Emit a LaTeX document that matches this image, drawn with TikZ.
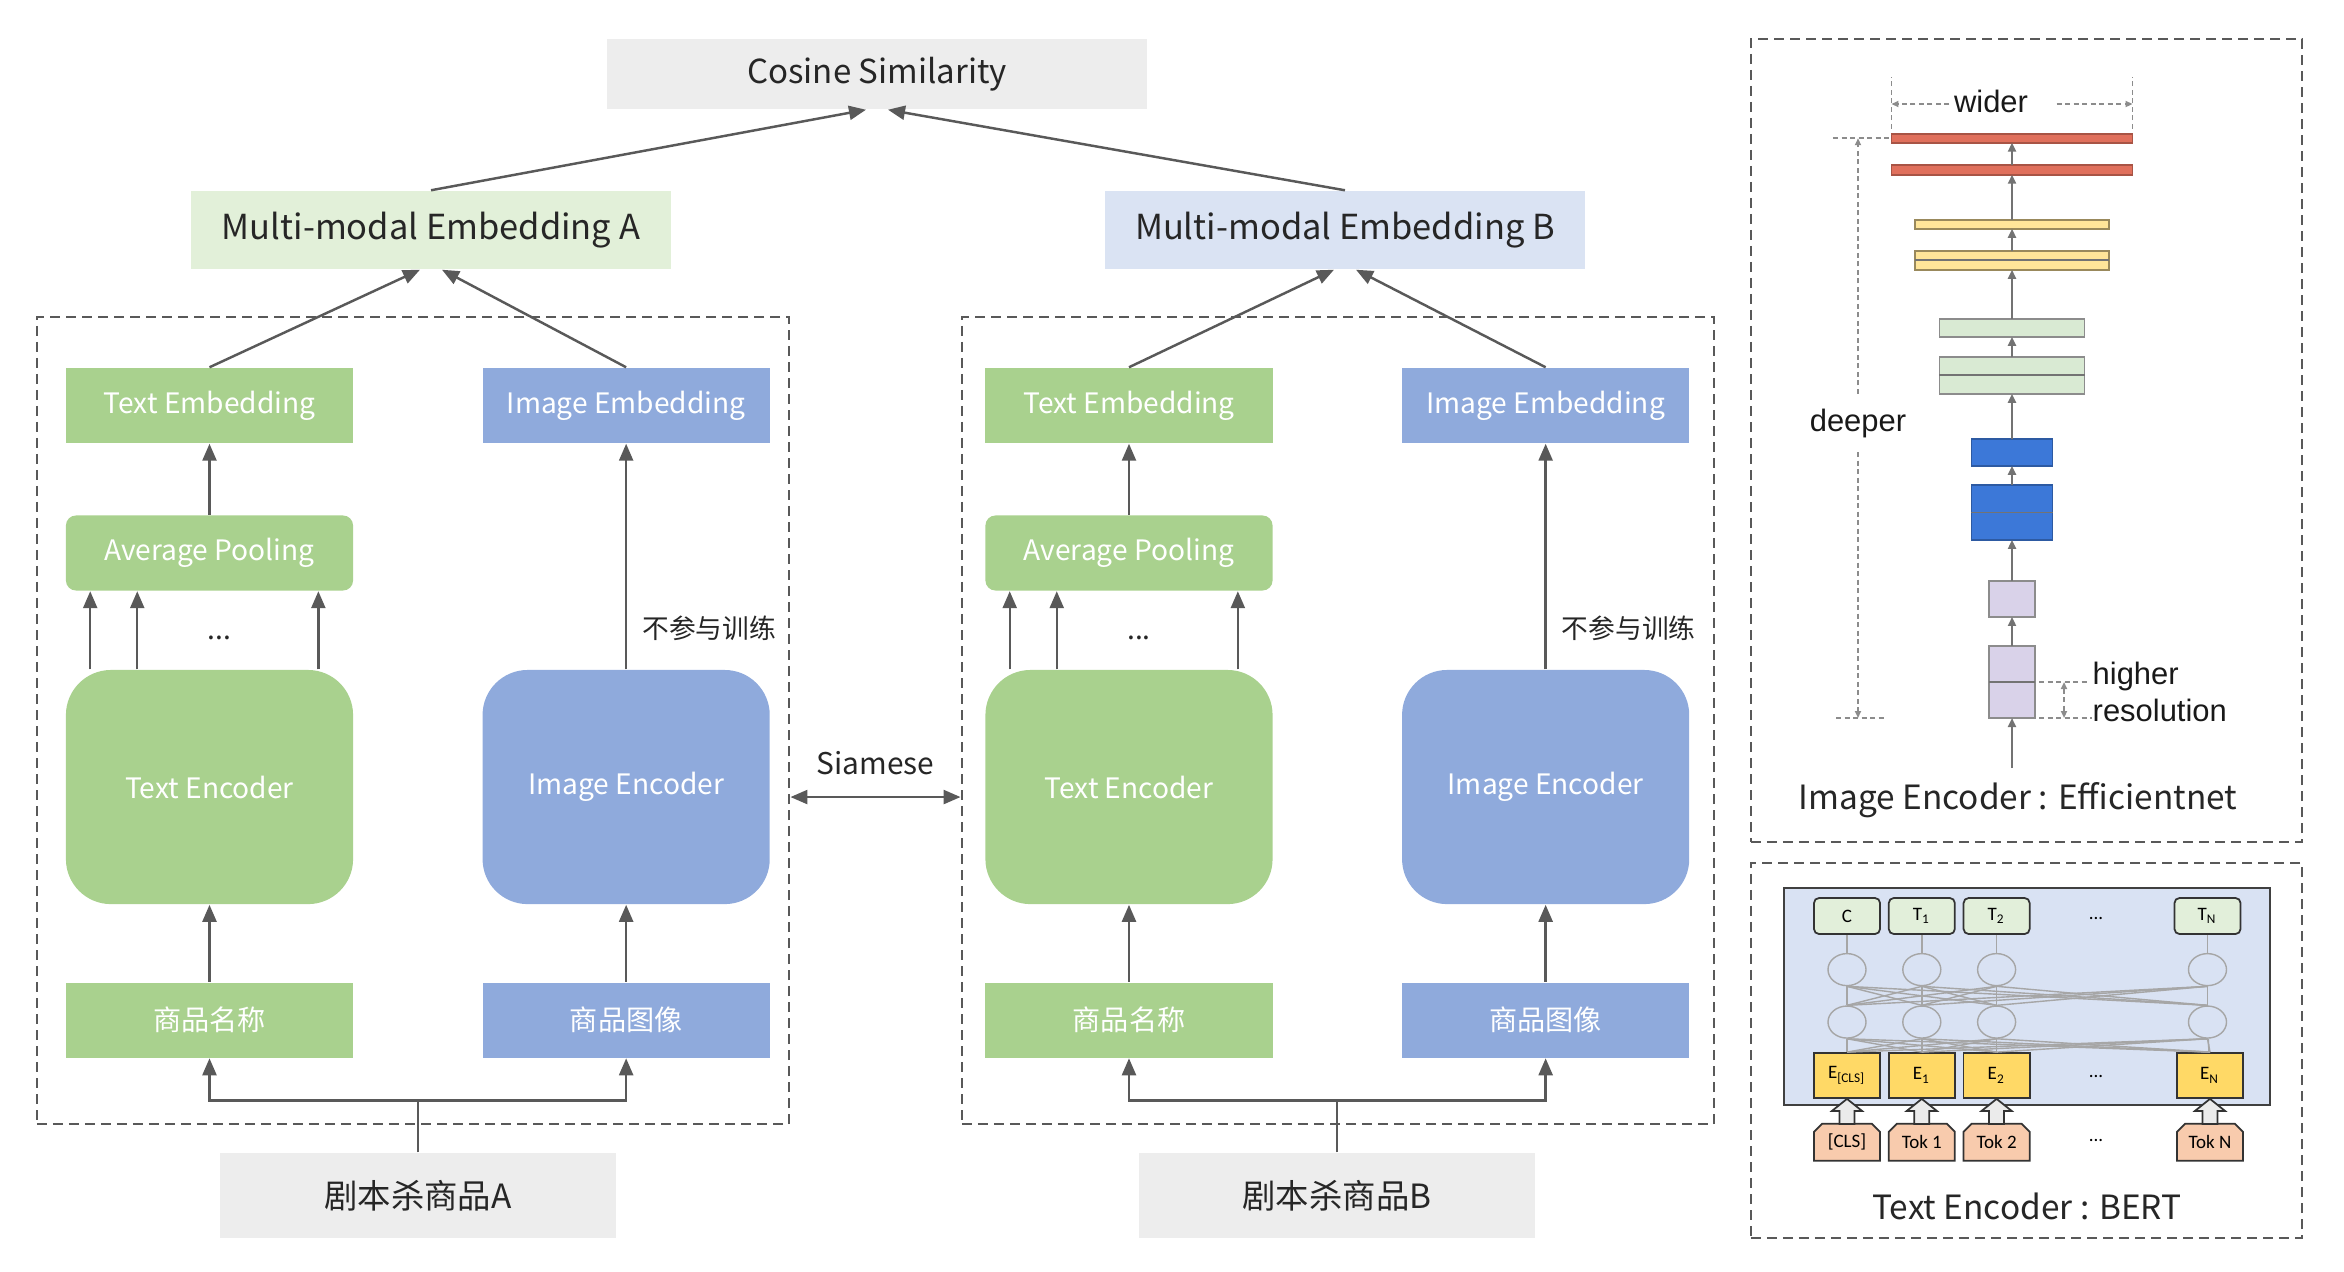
\documentclass[tikz,border=0pt]{standalone}
\usepackage{fontspec}
\setmainfont{Noto Sans CJK SC}
\newfontfamily\arialfont{Liberation Sans}
\newfontfamily\bertfont{Carlito}
\usetikzlibrary{arrows.meta,positioning,shapes.geometric,shapes.misc,calc}
\definecolor{grn}{HTML}{A9D18E}
\definecolor{blu}{HTML}{8FAADC}
\definecolor{lgrn}{HTML}{E2F0D9}
\definecolor{lblu}{HTML}{DAE3F3}
\definecolor{lgray}{HTML}{EDEDED}
\definecolor{arr}{HTML}{595959}
\definecolor{txt}{HTML}{262626}
\definecolor{ered}{HTML}{E0705C}
\definecolor{eyel}{HTML}{FFE599}
\definecolor{egrn}{HTML}{D9EAD3}
\definecolor{dblu}{HTML}{3C78D8}
\definecolor{lav}{HTML}{D9D2E9}
\definecolor{bbg}{HTML}{D9E2F3}
\definecolor{bout}{HTML}{E2EFDA}
\definecolor{byel}{HTML}{FFD966}
\definecolor{btok}{HTML}{F8CBAD}

\begin{document}
\begin{tikzpicture}[x=0.01cm, y=-0.01cm, node distance=0.7cm,
  line/.style={-{Triangle[length=0.17cm,width=0.14cm]}, draw=arr, line width=0.7pt},
  dline/.style={{Triangle[length=0.17cm,width=0.14cm]}-{Triangle[length=0.17cm,width=0.14cm]}, draw=arr, line width=0.7pt},
  panel/.style={rectangle, draw=arr, dash pattern=on 0.1cm off 0.06cm, line width=0.7pt, inner sep=0, minimum width=7.52cm, minimum height=8.07cm},
  rpanel/.style={rectangle, draw=arr, dash pattern=on 0.1cm off 0.06cm, line width=0.7pt, inner sep=0, minimum width=5.51cm},
  block/.style={rectangle, inner sep=0, minimum width=2.87cm, minimum height=0.75cm, text=white, font=\fontsize{8}{10}\selectfont},
  gblock/.style={block, fill=grn},
  bblock/.style={block, fill=blu},
  pool/.style={gblock, rounded corners=0.1cm},
  enc/.style={block, minimum height=2.34cm, rounded corners=0.45cm},
  headbox/.style={rectangle, inner sep=0, minimum width=4.8cm, minimum height=0.78cm, text=txt, font=\fontsize{9.8}{12}\selectfont},
  graybox/.style={rectangle, inner sep=0, fill=lgray, text=txt, font=\fontsize{9.5}{12}\selectfont},
  note/.style={inner sep=0, text=txt, font=\fontsize{7.6}{9}\selectfont},
  gdots/.style={inner sep=0, text=txt, font=\fontsize{8}{10}\selectfont},
  effbar/.style={rectangle, inner sep=0, outer sep=0, line width=0.5pt, draw=black!45},
  effsplit/.style={draw=black!55, line width=0.5pt},
  sline/.style={-{Triangle[length=0.09cm,width=0.08cm]}, draw=black!55, line width=0.6pt},
  guide/.style={draw=black!45, line width=0.5pt, dash pattern=on 0.05cm off 0.035cm},
  garrow/.style={guide, -{Triangle[length=0.07cm,width=0.06cm]}},
  gdarrow/.style={guide, {Triangle[length=0.07cm,width=0.06cm]}-{Triangle[length=0.07cm,width=0.06cm]}},
  efftext/.style={inner sep=0, text=black!90, font=\arialfont\fontsize{8.8}{10.5}\selectfont},
  titletext/.style={inner sep=0, text=txt, font=\fontsize{9.5}{11}\selectfont},
  outbox/.style={rectangle, rounded corners=0.05cm, draw=black!80, line width=0.5pt, fill=bout, inner sep=0, minimum width=0.66cm, minimum height=0.36cm, font=\bertfont\fontsize{5.4}{6}\selectfont},
  embbox/.style={rectangle, draw=black!80, line width=0.5pt, fill=byel, inner sep=0, minimum width=0.66cm, minimum height=0.45cm, font=\bertfont\fontsize{5.4}{6}\selectfont},
  tokbox/.style={chamfered rectangle, chamfered rectangle corners={north west,north east}, chamfered rectangle xsep=0.04cm, chamfered rectangle ysep=0.04cm, draw=black!80, line width=0.5pt, fill=btok, inner sep=0, minimum width=0.66cm, minimum height=0.37cm, font=\bertfont\fontsize{5.4}{6}\selectfont},
  cir/.style={ellipse, draw=black!35, line width=0.4pt, inner sep=0, minimum width=0.38cm, minimum height=0.32cm},
  bline/.style={draw=black!35, line width=0.4pt},
  hollow/.style={draw=black!80, line width=0.5pt, fill=black!8},
  bdots/.style={inner sep=0, font=\bertfont\fontsize{5.4}{6}\selectfont}]
\useasboundingbox (0,0) rectangle (2344,1272);

% siamese panels
\node[panel] (pa) at (413,720.5) {};
\node[panel] (pb) at (1338,720.5) {};

% similarity on top
\node[graybox, minimum width=5.4cm, minimum height=0.7cm, font=\fontsize{9.4}{12}\selectfont] (cos) at (877,74) {Cosine Similarity};
\node[headbox, fill=lgrn] (mma) at (431,230) {Multi-modal Embedding A};
\node[headbox, fill=lblu] (mmb) at (1345,230) {Multi-modal Embedding B};
\draw[line] (mma.north) -- ([xshift=-0.11cm]cos.south);
\draw[line] (mmb.north) -- ([xshift=0.11cm]cos.south);

% branch A
\node[gblock] (tea) at (209.5,405.5) {Text Embedding};
\node[bblock, right=1.28cm of tea] (iea) {Image Embedding};
\node[pool, below=0.71cm of tea] (apa) {Average Pooling};
\node[enc, fill=grn, below=0.78cm of apa] (tenca) {Text Encoder};
\node[enc, fill=blu, right=1.28cm of tenca] (ienca) {Image Encoder};
\node[gblock, below=0.77cm of tenca] (tna) {商品名称};
\node[bblock, right=1.28cm of tna] (ina) {商品图像};
\node[graybox, minimum width=3.96cm, minimum height=0.85cm] (proda) at (418,1195.5) {剧本杀商品A};
\node[gdots] (dota) at ([xshift=0.1cm,yshift=0.31cm]tenca.north) {...};
\draw[line] (proda.north) -- ++(0,-52) coordinate (fa) -| (tna.south);
\draw[line] (fa) -| (ina.south);
\draw[line] (tna) -- (tenca);
\draw[line] (ina) -- (ienca);
\draw[line] ([xshift=0.25cm]tenca.north west) -- ([xshift=0.25cm]apa.south west);
\draw[line] ([xshift=0.72cm]tenca.north west) -- ([xshift=0.72cm]apa.south west);
\draw[line] ([xshift=2.53cm]tenca.north west) -- ([xshift=2.53cm]apa.south west);
\draw[line] (apa) -- (tea);
\draw[line] (ienca) -- (iea) node[note, pos=0.18, right=0.15cm] {不参与训练};
\draw[line] (tea.north) -- ([xshift=-0.11cm]mma.south);
\draw[line] (iea.north) -- ([xshift=0.11cm]mma.south);

% branch B
\node[gblock] (teb) at (1129,405.5) {Text Embedding};
\node[bblock, right=1.28cm of teb] (ieb) {Image Embedding};
\node[pool, below=0.71cm of teb] (apb) {Average Pooling};
\node[enc, fill=grn, below=0.78cm of apb] (tencb) {Text Encoder};
\node[enc, fill=blu, right=1.28cm of tencb] (iencb) {Image Encoder};
\node[gblock, below=0.77cm of tencb] (tnb) {商品名称};
\node[bblock, right=1.28cm of tnb] (inb) {商品图像};
\node[graybox, minimum width=3.96cm, minimum height=0.85cm] (prodb) at (1337,1195.5) {剧本杀商品B};
\node[gdots] (dotb) at ([xshift=0.1cm,yshift=0.31cm]tencb.north) {...};
\draw[line] (prodb.north) -- ++(0,-52) coordinate (fb) -| (tnb.south);
\draw[line] (fb) -| (inb.south);
\draw[line] (tnb) -- (tencb);
\draw[line] (inb) -- (iencb);
\draw[line] ([xshift=0.25cm]tencb.north west) -- ([xshift=0.25cm]apb.south west);
\draw[line] ([xshift=0.72cm]tencb.north west) -- ([xshift=0.72cm]apb.south west);
\draw[line] ([xshift=2.53cm]tencb.north west) -- ([xshift=2.53cm]apb.south west);
\draw[line] (apb) -- (teb);
\draw[line] (iencb) -- (ieb) node[note, pos=0.18, right=0.15cm] {不参与训练};
\draw[line] (teb.north) -- ([xshift=-0.11cm]mmb.south);
\draw[line] (ieb.north) -- ([xshift=0.11cm]mmb.south);

\draw[dline] ($(ienca.east -| pa.east)+(0,10)$) -- ($(ienca.east -| pb.west)+(0,10)$) node[note, midway, yshift=0.34cm, font=\fontsize{8.5}{10}\selectfont] {Siamese};

% image encoder: efficientnet
\node[rpanel, minimum height=8.03cm] (effp) at (2026.5,440.5) {};
\node[effbar, fill=lav, minimum width=0.46cm, minimum height=0.72cm] (l2) at (2012,682) {};
\node[effbar, fill=lav, minimum width=0.46cm, minimum height=0.36cm, above=0.29cm of l2] (l1) {};
\node[effbar, fill=dblu, draw=dblu!75!black, minimum width=0.81cm, minimum height=0.55cm, above=0.41cm of l1] (b2) {};
\node[effbar, fill=dblu, draw=dblu!75!black, minimum width=0.81cm, minimum height=0.27cm, above=0.19cm of b2] (b1) {};
\node[effbar, fill=egrn, minimum width=1.45cm, minimum height=0.37cm, above=0.45cm of b1] (g2) {};
\node[effbar, fill=egrn, minimum width=1.45cm, minimum height=0.18cm, above=0.20cm of g2] (g1) {};
\node[effbar, fill=eyel, draw=eyel!60!black, minimum width=1.94cm, minimum height=0.19cm, above=0.49cm of g1] (y2) {};
\node[effbar, fill=eyel, draw=eyel!60!black, minimum width=1.94cm, minimum height=0.09cm, above=0.22cm of y2] (y1) {};
\node[effbar, fill=ered, draw=ered!75!black, minimum width=2.41cm, minimum height=0.10cm, above=0.45cm of y1] (r2) {};
\node[effbar, fill=ered, draw=ered!75!black, minimum width=2.41cm, minimum height=0.09cm, above=0.22cm of r2] (r1) {};
\draw[effsplit] (l2.west) -- (l2.east);
\draw[effsplit] (b2.west) -- (b2.east);
\draw[effsplit] (g2.west) -- (g2.east);
\draw[effsplit] (y2.west) -- (y2.east);
\coordinate (ein) at (2012,768);
\draw[sline] (ein) -- (l2);
\foreach \a/\b in {l2/l1,l1/b2,b2/b1,b1/g2,g2/g1,g1/y2,y2/y1,y1/r2,r2/r1}
  \draw[sline] (\a) -- (\b);

\node[efftext] (wider) at (1991,101) {wider};
\draw[guide] ([yshift=0.05cm]r1.north west) -- ++(0,-52);
\draw[guide] ([yshift=0.05cm]r1.north east) -- ++(0,-52);
\draw[garrow] ([xshift=-0.04cm,yshift=-0.03cm]wider.west) -- ([yshift=-0.03cm]wider.west -| r1.west);
\draw[garrow] ([xshift=0.28cm,yshift=-0.03cm]wider.east) -- ([yshift=-0.03cm]wider.east -| r1.east);

\node[efftext, inner sep=0.14cm] (deeper) at (1858,423) {deeper};
\coordinate (dtop) at (deeper |- r1.west);
\coordinate (dbot) at (deeper |- l2.south);
\draw[garrow] (deeper.north) -- (dtop);
\draw[garrow] (deeper.south) -- (dbot);
\draw[guide] ([xshift=-0.25cm]dtop) -- ([xshift=0.31cm]dtop);
\draw[guide] ([xshift=-0.22cm]dbot) -- ([xshift=0.26cm]dbot);

\node[efftext, align=left, anchor=west] (hres) at (2092,692) {higher\\resolution};
\draw[guide] ([xshift=0.04cm]l2.east) -- ++(48,0);
\draw[guide] ([xshift=0.04cm]l2.south east) -- ++(53,0);
\draw[gdarrow] ($(l2.east)+(29,0)$) -- ($(l2.south east)+(29,0)$);
\node[titletext] (efft) at (2018,800) {Image Encoder : Efficientnet};

% text encoder: bert
\node[rpanel, minimum height=3.75cm] (bertp) at (2026.5,1050.5) {};
\node[rectangle, draw=black!75, line width=0.6pt, fill=bbg, inner sep=0, minimum width=4.86cm, minimum height=2.17cm] (bbox) at (2027,996.5) {};
\node[outbox] (oc) at (1847,916) {C};
\node[outbox, right=0.07cm of oc] (o1) {T\textsubscript{1}};
\node[outbox, right=0.07cm of o1] (o2) {T\textsubscript{2}};
\node[outbox] (on) at (2207.5,916) {T\textsubscript{N}};
\node[cir, below=0.18cm of oc] (ac) {};
\node[cir, below=0.18cm of o1] (a1) {};
\node[cir, below=0.18cm of o2] (a2) {};
\node[cir, below=0.18cm of on] (an) {};
\node[cir, below=0.19cm of ac] (bc) {};
\node[cir, below=0.19cm of a1] (b1x) {};
\node[cir, below=0.19cm of a2] (b2x) {};
\node[cir, below=0.19cm of an] (bn) {};
\node[embbox] (ec) at (1847,1075.5) {E\textsubscript{[CLS]}};
\node[embbox, right=0.07cm of ec] (e1) {E\textsubscript{1}};
\node[embbox, right=0.07cm of e1] (e2) {E\textsubscript{2}};
\node[embbox] (en) at (2210,1075.5) {E\textsubscript{N}};
\node[tokbox, below=0.24cm of ec] (kc) {[CLS]};
\node[tokbox, below=0.24cm of e1] (k1) {Tok 1};
\node[tokbox, below=0.24cm of e2] (k2) {Tok 2};
\node[tokbox, below=0.24cm of en] (kn) {Tok N};
\node[bdots] (odots) at (2096,918) {...};
\node[bdots] (edots) at (2096,1076) {...};
\node[bdots] (kdots) at (2096,1140) {...};
\foreach \i/\bi in {c/bc,1/b1x,2/b2x,n/bn} {
  \draw[bline] (o\i) -- (a\i);
  \draw[bline] (a\i) -- (\bi);
  \draw[bline] (\bi) -- (e\i);
  \foreach \j/\bj in {c/bc,1/b1x,2/b2x,n/bn} {
    \draw[bline] (\bi.north) -- (a\j.south);
    \draw[bline] (e\i.north) -- (\bj.south);
  }
  \draw[hollow] (e\i.south) -- ++(15,12) -- ++(-7.5,0) -- ++(0,13) -- ++(-15,0) -- ++(0,-13) -- ++(-7.5,0) -- cycle;
}
\node[titletext] (bertt) at (2027,1206) {Text Encoder : BERT};
\end{tikzpicture}
\end{document}
